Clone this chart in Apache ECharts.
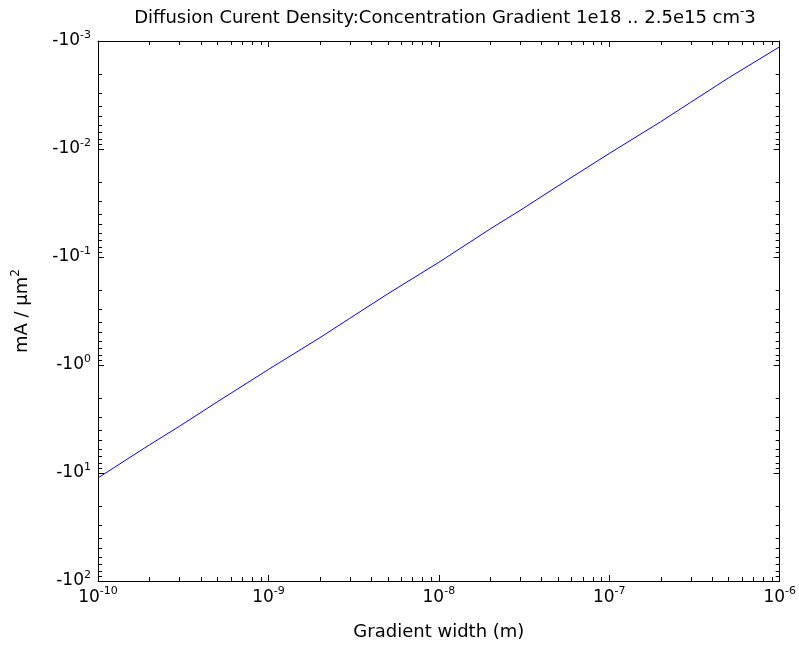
<!DOCTYPE html>
<html>
<head>
<meta charset="utf-8">
<script src="https://cdn.jsdelivr.net/npm/echarts@6/dist/echarts.min.js"></script>
<style>
  html, body { margin: 0; padding: 0; background: #fff; }
  #chart { width: 799px; height: 646px; }
</style>
</head>
<body>
<div id="chart"></div>
<script>
// Gradient width (m) and the resulting diffusion current density (mA / um^2)
const gradientWidth = [
  1e-10, 2e-10, 3e-10, 5e-10,
  1e-9, 2e-9, 3e-9, 5e-9,
  1e-8, 2e-8, 3e-8, 5e-8,
  1e-7, 2e-7, 3e-7, 5e-7,
  1e-6
];
const currentDensity = [
  -11.1, -5.5, -3.7, -2.2,
  -1.1, -0.56, -0.37, -0.22,
  -0.112, -0.055, -0.037, -0.022,
  -0.011, -0.0056, -0.0037, -0.0022,
  -0.00113
];

// Axis ranges (decades)
const xExpRange = [-10, -6];
const yExpRange = [-3, 2];

const FONT = 'DejaVu Sans, Liberation Sans, Arial, sans-serif';

// Minor tick positions (2..9 within each decade)
const xMinorTicks = [];
for (let e = xExpRange[0]; e < xExpRange[1]; e++) {
  for (let m = 2; m <= 9; m++) xMinorTicks.push(m * Math.pow(10, e));
}
const yMinorTicks = [];
for (let e = yExpRange[0]; e < yExpRange[1]; e++) {
  for (let m = 2; m <= 9; m++) yMinorTicks.push(m * Math.pow(10, e));
}

// Magnitude is plotted on a log axis; labels carry the minus sign
const lineData = gradientWidth.map((w, i) => [w, -currentDensity[i]]);

const minorData = []
  .concat(xMinorTicks.map(v => [v, 1, 0]))
  .concat(yMinorTicks.map(v => [1e-8, v, 1]));

function richSet(size, supSize) {
  return {
    b: { fontSize: size, fontFamily: FONT, fontWeight: 'normal', color: '#000', lineHeight: size + 6 },
    s: { fontSize: supSize, fontFamily: FONT, fontWeight: 'normal', color: '#000', lineHeight: supSize + 1, verticalAlign: 'top' }
  };
}
const tickRich = richSet(17, 11);
const textRich = richSet(18, 12);

const expOf = v => Math.round(Math.log10(v));

const baseAxis = {
  axisLine: { show: true, lineStyle: { color: '#000', width: 1 } },
  axisTick: { show: true, inside: true, length: 6, lineStyle: { color: '#000' } },
  splitLine: { show: false },
  minorTick: { show: false }
};

const chart = echarts.init(document.getElementById('chart'), null, { renderer: 'canvas' });

chart.setOption({
  animation: false,
  backgroundColor: '#fff',
  title: {
    text: '{b|Diffusion Curent Density:Concentration Gradient 1e18 .. 2.5e15 cm}{s|-}{b|3}',
    left: 440,
    top: 1,
    textAlign: 'center',
    textStyle: { fontWeight: 'normal', rich: textRich }
  },
  grid: { left: 98, right: 19, top: 41, bottom: 65, containLabel: false },
  xAxis: [
    Object.assign({}, baseAxis, {
      type: 'log', logBase: 10, position: 'bottom',
      min: Math.pow(10, xExpRange[0]), max: Math.pow(10, xExpRange[1]), interval: 1,
      name: 'Gradient width (m)', nameLocation: 'middle', nameGap: 42,
      nameTextStyle: { fontSize: 18, fontFamily: FONT, color: '#000' },
      axisLabel: {
        margin: 5,
        formatter: v => '{b|10}{s|' + expOf(v) + '}',
        rich: tickRich
      }
    }),
    Object.assign({}, baseAxis, {
      type: 'log', logBase: 10, position: 'top',
      min: Math.pow(10, xExpRange[0]), max: Math.pow(10, xExpRange[1]), interval: 1,
      axisLabel: { show: false }
    })
  ],
  yAxis: [
    Object.assign({}, baseAxis, {
      type: 'log', logBase: 10, position: 'left', inverse: true,
      min: Math.pow(10, yExpRange[0]), max: Math.pow(10, yExpRange[1]), interval: 1,
      name: '{b|mA / \u03bcm}{s|2}', nameLocation: 'middle', nameGap: 64, nameRotate: 90,
      nameTextStyle: { rich: textRich },
      axisLabel: {
        margin: 7,
        formatter: v => '{b|-10}{s|' + expOf(v) + '}',
        rich: tickRich
      }
    }),
    Object.assign({}, baseAxis, {
      type: 'log', logBase: 10, position: 'right', inverse: true,
      min: Math.pow(10, yExpRange[0]), max: Math.pow(10, yExpRange[1]), interval: 1,
      axisLabel: { show: false }
    })
  ],
  series: [
    {
      type: 'line',
      xAxisIndex: 0, yAxisIndex: 0,
      data: lineData,
      showSymbol: false,
      lineStyle: { color: '#0000ff', width: 1 },
      z: 3
    },
    {
      // minor ticks on all four sides of the box
      type: 'custom',
      xAxisIndex: 0, yAxisIndex: 0,
      silent: true,
      clip: false,
      encode: { x: 0, y: 1 },
      data: minorData,
      renderItem: function (params, api) {
        const cs = params.coordSys;
        const L = cs.x, T = cs.y, R = cs.x + cs.width, B = cs.y + cs.height;
        const len = 4;
        const style = { stroke: '#000', lineWidth: 1 };
        const pt = api.coord([api.value(0), api.value(1)]);
        if (api.value(2) === 0) {
          const px = Math.round(pt[0]) + 0.5;
          return {
            type: 'group',
            children: [
              { type: 'line', shape: { x1: px, y1: B, x2: px, y2: B - len }, style: style },
              { type: 'line', shape: { x1: px, y1: T, x2: px, y2: T + len }, style: style }
            ]
          };
        }
        const py = Math.round(pt[1]) + 0.5;
        return {
          type: 'group',
          children: [
            { type: 'line', shape: { x1: L, y1: py, x2: L + len, y2: py }, style: style },
            { type: 'line', shape: { x1: R, y1: py, x2: R - len, y2: py }, style: style }
          ]
        };
      },
      z: 4
    }
  ]
});
</script>
</body>
</html>
